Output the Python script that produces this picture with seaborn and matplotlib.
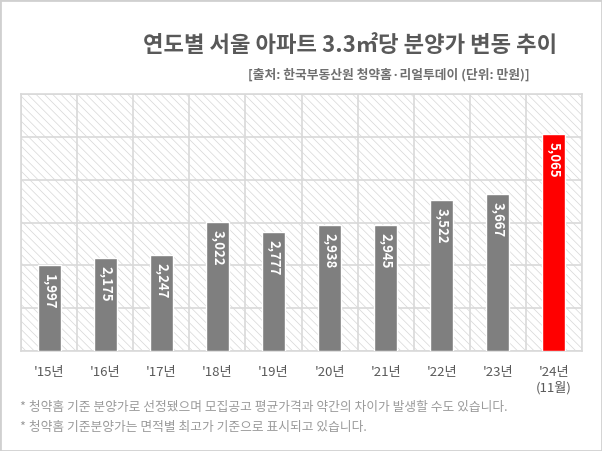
import numpy as np
import pandas as pd
import seaborn as sns
import matplotlib.pyplot as plt
from matplotlib.patches import Rectangle

# data
years = ["'15년", "'16년", "'17년", "'18년", "'19년", "'20년", "'21년", "'22년", "'23년", "'24년\n(11월)"]
prices = [1997, 2175, 2247, 3022, 2777, 2938, 2945, 3522, 3667, 5065]
bar_colors = ["#7f7f7f"] * 9 + ["#ff0000"]

title = "연도별 서울 아파트 3.3㎡당 분양가 변동 추이"
subtitle = "[출처: 한국부동산원 청약홈·리얼투데이 (단위: 만원)]"
notes = ["* 청약홈 기준 분양가로 선정됐으며 모집공고 평균가격과 약간의 차이가 발생할 수도 있습니다.",
         "* 청약홈 기준분양가는 면적별 최고가 기준으로 표시되고 있습니다."]

sns.set_style("white")
plt.rcParams['font.family'] = ['Noto Sans CJK KR', 'DejaVu Sans']
plt.rcParams['hatch.linewidth'] = 0.5

df = pd.DataFrame({"year": years, "price": prices})

fig = plt.figure(figsize=(6.02, 4.51), dpi=100)
ax = fig.add_axes([21 / 602, 1 - 351 / 451, 561 / 602, 257 / 451])

# hatched plot background
ax.add_patch(Rectangle((0, 0), 1, 1, transform=ax.transAxes, facecolor="white",
                       edgecolor="#d6d6d6", hatch="\\\\\\\\", lw=0, zorder=0))

sns.barplot(df, x="year", y="price", hue="year", palette=bar_colors,
            width=0.41, legend=False, ax=ax, zorder=3, saturation=1)

ax.set_ylim(0, 6000)
ax.set_xlim(-0.5, len(years) - 0.5)
ax.set_yticks(np.arange(0, 6001, 1000))
ax.set_yticklabels([])
ax.set_xticks(np.arange(-0.5, len(years), 1), minor=True)
ax.grid(True, which="major", axis="y", color="#d9d9d9", lw=1.2, zorder=1)
ax.grid(True, which="minor", axis="x", color="#d9d9d9", lw=1.2, zorder=1)
ax.tick_params(which="both", length=0)
ax.tick_params(axis="x", labelsize=9.5, labelcolor="#595959", pad=11)
for s in ax.spines.values():
    s.set_color("#d9d9d9")
    s.set_linewidth(1.2)
ax.set_xlabel("")
ax.set_ylabel("")

for i, v in enumerate(prices):
    ax.annotate(f"{v:,}", (i, v), xytext=(0, -6), textcoords="offset points",
                rotation=-90, ha="center", va="top", color="white",
                fontsize=9.5, fontweight="bold", zorder=4)

fig.text(557 / 602, 1 - 46 / 451, title, ha="right", va="center",
         fontsize=16, fontweight="bold", color="#595959")
fig.text(530 / 602, 1 - 75 / 451, subtitle, ha="right", va="center",
         fontsize=9.2, fontweight="bold", color="#6f6f6f")
fig.text(20 / 602, 1 - 407 / 451, notes[0], ha="left", va="center",
         fontsize=9.2, color="#9a9a9a")
fig.text(20 / 602, 1 - 428 / 451, notes[1], ha="left", va="center",
         fontsize=9.2, color="#9a9a9a")

# thin frame around the whole image
fig.patches.append(Rectangle((0, 0), 1, 1, transform=fig.transFigure, fill=False,
                             edgecolor="#d0d0d0", lw=2))

fig.savefig("out.png", dpi=100)
